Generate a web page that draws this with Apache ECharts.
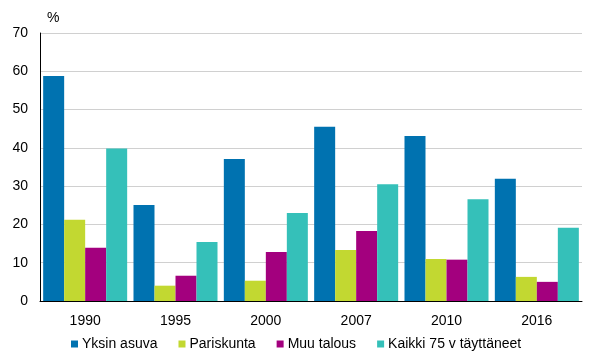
<!DOCTYPE html>
<html><head><meta charset="utf-8">
<script src="https://cdn.jsdelivr.net/npm/echarts@6/dist/echarts.min.js"></script>
<style>html,body{margin:0;padding:0;background:#fff}#c{width:600px;height:360px}</style>
</head><body><div id="c"></div>
<script>
var categories = ['1990','1995','2000','2007','2010','2016'];
var seriesNames = ['Yksin asuva','Pariskunta','Muu talous','Kaikki 75 v täyttäneet'];
var yksinAsuva = [58.8, 25.1, 37.1, 45.5, 43.1, 31.9];
var pariskunta = [21.2, 4.0, 5.3, 13.3, 11.0, 6.3];
var muuTalous = [13.9, 6.6, 12.8, 18.3, 10.8, 5.0];
var kaikki75 = [39.8, 15.4, 23.0, 30.5, 26.6, 19.1];
var yTicks = [0, 10, 20, 30, 40, 50, 60, 70];
var colors = ['#0072b0', '#c2d831', '#a3007e', '#35c0b9'];
var font = '"Liberation Sans", Arial, sans-serif';
var chart = echarts.init(document.getElementById('c'));
var data = [yksinAsuva, pariskunta, muuTalous, kaikki75];
chart.setOption({
  animation: false,
  color: colors,
  grid: {left: 40, right: 18, top: 33, bottom: 59},
  graphic: [{type: 'text', left: 47, top: 11, style: {text: '%', font: '14px ' + font, fill: '#000'}}],
  legend: {
    data: seriesNames, left: 66, top: 332, itemWidth: 7, itemHeight: 7, itemGap: 21,
    icon: 'rect', textStyle: {fontFamily: font, fontSize: 14, color: '#000', padding: [0,0,0,-1]}
  },
  xAxis: {
    type: 'category', data: categories,
    axisLine: {lineStyle: {color: '#000', width: 1}},
    axisTick: {show: false},
    axisLabel: {fontFamily: font, fontSize: 14, color: '#000', margin: 13}
  },
  yAxis: {
    type: 'value', min: yTicks[0], max: yTicks[yTicks.length-1], interval: 10,
    axisLine: {show: true, lineStyle: {color: '#000', width: 1}},
    axisTick: {show: false},
    axisLabel: {fontFamily: font, fontSize: 14, color: '#000', margin: 12},
    splitLine: {lineStyle: {color: '#d0d0d0', width: 1}}
  },
  series: seriesNames.map(function(n, i){
    return {name: n, type: 'bar', data: data[i], barGap: '0%', barCategoryGap: '7%'};
  })
});
</script></body></html>
